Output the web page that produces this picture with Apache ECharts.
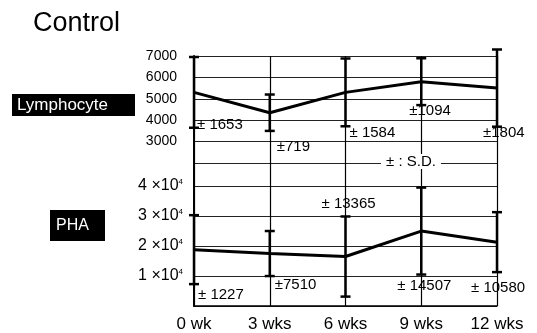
<!DOCTYPE html>
<html><head><meta charset="utf-8">
<script src="https://cdn.jsdelivr.net/npm/echarts@6/dist/echarts.min.js"></script>
<style>html,body{margin:0;padding:0;background:#fff}#c{width:537px;height:333px}</style>
</head><body><div id="c"></div>
<script>
// ---- data ----
const categories = ['0 wk', '3 wks', '6 wks', '9 wks', '12 wks'];
const lymphMean = [5300, 4350, 5300, 5800, 5500];
const lymphBar = [1653, 850, 1584, 1094, 1804];           // drawn half-lengths of error bars
const lymphLabels = ['± 1653', '±719', '± 1584', '±1094', '±1804'];
const phaMean = [18800, 17500, 16500, 25000, 21300];
const phaBar = [11500, 7510, 13365, 14507, 10000];        // drawn half-lengths of error bars
const phaLabels = ['± 1227', '±7510', '± 13365', '± 14507', '± 10580'];
const lymphTicks = [3000, 4000, 5000, 6000, 7000];
const phaTicks = [1, 2, 3, 4];

// ---- label layout (pixel offsets from the error-bar end) ----
const lymphLabelLayout = [[3, -3, 'low'], [7, 16, 'low'], [4, 7, 'low'], [-12, 6, 'low'], [-14, 6, 'low']];
const phaLabelLayout = [[4, 11, 'low'], [5, 9, 'low'], [-24, -13, 'high'], [-24, 11, 'low'], [-26, 16, 'low']];

const FONT = 'Liberation Sans';

function errRender(labels, layout) {
  return function (params, api) {
    const i = api.value(0), m = api.value(1), s = api.value(2);
    const top = api.coord([i, m + s]);
    const bot = api.coord([i, m - s]);
    const x = top[0], cw = 5;
    const L = layout[i];
    const anchorY = L[2] === 'high' ? top[1] : bot[1];
    return {
      type: 'group',
      children: [
        { type: 'line', shape: { x1: x, y1: top[1], x2: x, y2: bot[1] }, style: { stroke: '#000', lineWidth: 2.5 } },
        { type: 'line', shape: { x1: x - cw, y1: top[1], x2: x + cw, y2: top[1] }, style: { stroke: '#000', lineWidth: 2.5 } },
        { type: 'line', shape: { x1: x - cw, y1: bot[1], x2: x + cw, y2: bot[1] }, style: { stroke: '#000', lineWidth: 2.5 } },
        { type: 'text', style: { text: labels[i], x: x + L[0], y: anchorY + L[1], fill: '#000', fontSize: 15, fontFamily: FONT, align: 'left', verticalAlign: 'middle' } }
      ]
    };
  };
}

const chart = echarts.init(document.getElementById('c'), null, { renderer: 'canvas' });
const xBase = {
  type: 'category', data: categories, boundaryGap: false,
  axisTick: { show: false },
  splitLine: { show: true, lineStyle: { color: '#000', width: 1.2 } }
};
const option = {
  animation: false,
  backgroundColor: '#fff',
  title: { text: 'Control', left: 28, top: 5, textStyle: { fontSize: 27, fontWeight: 'normal', fontFamily: FONT, color: '#000' } },
  grid: [
    { left: 194, right: 40, top: 56, height: 107 },
    { left: 194, right: 40, top: 163, height: 143 }
  ],
  xAxis: [
    Object.assign({}, xBase, { gridIndex: 0, axisLine: { show: false }, axisLabel: { show: false } }),
    Object.assign({}, xBase, { gridIndex: 1, axisLine: { show: true, lineStyle: { color: '#000', width: 1.5 } },
      axisLabel: { show: true, fontSize: 17, fontFamily: FONT, color: '#000', margin: 10 } })
  ],
  yAxis: [
    { type: 'value', gridIndex: 0, min: 2000, max: 7000, interval: 1000,
      axisLine: { show: true, lineStyle: { color: '#000', width: 2 } }, axisTick: { show: false },
      splitLine: { show: true, lineStyle: { color: '#222', width: 1 } },
      axisLabel: { fontSize: 14, fontFamily: FONT, color: '#000', margin: 17,
        formatter: v => lymphTicks.indexOf(v) >= 0 ? String(v) : '' } },
    { type: 'value', gridIndex: 1, min: 0, max: 47700, interval: 10000,
      axisLine: { show: true, lineStyle: { color: '#000', width: 2 } }, axisTick: { show: false },
      splitLine: { show: true, lineStyle: { color: '#222', width: 1 } },
      axisLabel: { fontSize: 16, fontFamily: FONT, color: '#000', margin: 11,
        formatter: v => phaTicks.indexOf(v / 10000) >= 0 ? (v / 10000) + ' ×10{s|4}' : '',
        rich: { s: { fontSize: 8, fontFamily: FONT, verticalAlign: 'top', padding: [0, 0, 8, 0] } } } }
  ],
  series: [
    { type: 'line', xAxisIndex: 0, yAxisIndex: 0, data: lymphMean, showSymbol: false, lineStyle: { color: '#000', width: 3 }, z: 5 },
    { type: 'line', xAxisIndex: 1, yAxisIndex: 1, data: phaMean, showSymbol: false, lineStyle: { color: '#000', width: 3 }, z: 5 },
    { type: 'custom', xAxisIndex: 0, yAxisIndex: 0, clip: false, z: 6,
      data: lymphMean.map((m, i) => [i, m, lymphBar[i]]), renderItem: errRender(lymphLabels, lymphLabelLayout) },
    { type: 'custom', xAxisIndex: 1, yAxisIndex: 1, clip: false, z: 6,
      data: phaMean.map((m, i) => [i, m, phaBar[i]]), renderItem: errRender(phaLabels, phaLabelLayout) }
  ],
  graphic: [
    { type: 'group', left: 12, top: 94, children: [
      { type: 'rect', shape: { x: 0, y: 0, width: 123, height: 22 }, style: { fill: '#000' } },
      { type: 'text', style: { text: 'Lymphocyte', x: 5, y: 11, fill: '#fff', fontSize: 17, fontFamily: FONT, verticalAlign: 'middle' } }
    ] },
    { type: 'group', left: 50, top: 210, children: [
      { type: 'rect', shape: { x: 0, y: 0, width: 55, height: 31 }, style: { fill: '#000' } },
      { type: 'text', style: { text: 'PHA', x: 6, y: 16, fill: '#fff', fontSize: 16, fontFamily: FONT, verticalAlign: 'middle' } }
    ] },
    { type: 'text', left: 381, top: 154, z: 10, style: { text: '± : S.D.', fill: '#000', fontSize: 15, fontFamily: FONT,
      backgroundColor: '#fff', padding: [0, 5] } }
  ]
};
chart.setOption(option);
</script></body></html>
